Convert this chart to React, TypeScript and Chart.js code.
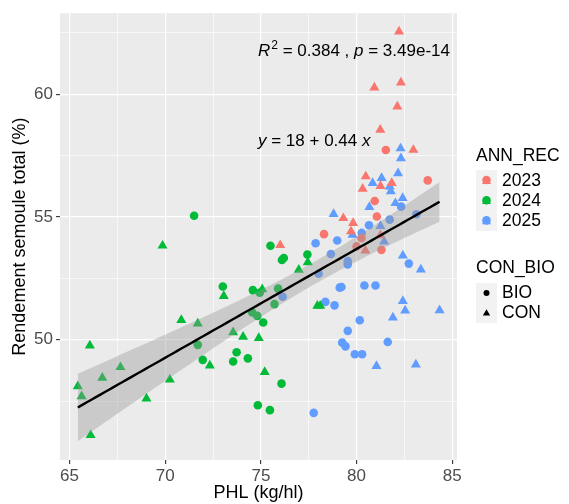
import React, { useEffect, useRef } from 'react';
import { Chart, registerables } from 'chart.js';
Chart.register(...registerables);

const FAMILY = '"Liberation Sans", Arial, sans-serif';
const YEARS = ['2023', '2024', '2025'];
const COLORS = ['#F8766D', '#00BA38', '#619CFF'];
const SHAPES = ['BIO', 'CON'];

// 2023
const x2023BIO = [81.53, 83.72, 80.95, 81.06, 78.30, 80.26, 80.00, 81.30];
const y2023BIO = [57.73, 56.49, 55.65, 55.02, 54.30, 54.14, 53.80, 53.66];
const x2023CON = [82.22, 80.93, 82.32, 82.13, 81.24, 82.97, 80.48, 80.32, 81.84, 81.25, 79.31, 79.82, 79.71, 80.46, 76.01, 81.25];
const y2023CON = [62.55, 60.27, 60.47, 59.50, 58.55, 57.73, 56.65, 56.15, 56.38, 56.26, 54.95, 54.75, 54.41, 53.63, 53.85, 54.25];
// 2024
const x2024BIO = [71.51, 75.50, 76.10, 76.20, 73.01, 74.58, 74.94, 75.90, 75.71, 74.55, 74.81, 75.12, 71.70, 73.73, 73.55, 74.32, 71.96, 76.08, 74.84, 75.47, 77.43];
const y2024BIO = [55.05, 53.83, 53.25, 53.33, 52.17, 52.02, 51.91, 52.08, 51.45, 51.11, 50.97, 50.70, 49.79, 49.49, 49.11, 49.24, 49.18, 48.21, 47.33, 47.13, 53.47];
const x2024CON = [69.86, 73.06, 75.07, 76.98, 77.45, 77.95, 78.10, 70.84, 71.70, 66.06, 73.55, 74.07, 74.89, 72.33, 67.66, 66.71, 65.43, 65.63, 70.24, 69.02, 66.10, 75.20];
const y2024CON = [53.83, 51.78, 52.05, 52.85, 53.15, 51.38, 51.38, 50.80, 50.66, 49.76, 50.30, 50.12, 50.07, 48.95, 48.88, 48.45, 48.10, 47.69, 48.37, 47.60, 46.11, 48.68];
// 2025
const x2025BIO = [82.33, 83.13, 81.73, 80.65, 80.27, 78.99, 77.86, 78.66, 79.54, 79.54, 82.73, 78.02, 79.12, 79.21, 80.41, 80.99, 78.37, 78.85, 80.17, 79.54, 79.25, 79.42, 79.91, 80.29, 81.63, 77.76, 76.14];
const y2025BIO = [55.42, 55.11, 54.89, 54.66, 54.35, 54.04, 53.93, 53.49, 53.20, 53.07, 53.10, 52.69, 52.12, 52.15, 52.21, 52.21, 51.54, 51.40, 50.79, 50.36, 49.88, 49.73, 49.41, 49.41, 49.91, 47.02, 51.75];
const x2025CON = [82.30, 82.32, 82.17, 81.31, 80.84, 81.73, 81.79, 82.41, 82.03, 80.67, 78.80, 79.79, 81.25, 81.44, 82.42, 83.36, 82.42, 82.54, 84.34, 81.90, 81.04, 83.10];
const y2025CON = [57.79, 57.39, 56.78, 56.58, 56.38, 56.24, 56.04, 55.77, 55.56, 55.40, 55.12, 54.27, 54.63, 54.00, 53.43, 52.86, 51.57, 51.19, 51.20, 50.90, 48.93, 48.99];

const X_MIN = 64.5;
const X_MAX = 85.25;
const Y_MIN = 45.1;
const Y_MAX = 63.3;
const T_CRIT = 1.981;

const R2_LABEL = ['R', '2', ' = 0.384 , ', 'p', ' = 3.49e-14'];
const EQ_LABEL = ['y', ' = 18 + 0.44 ', 'x'];

const GROUPS = [
  { year: 0, shape: 0, xs: x2023BIO, ys: y2023BIO },
  { year: 0, shape: 1, xs: x2023CON, ys: y2023CON },
  { year: 1, shape: 0, xs: x2024BIO, ys: y2024BIO },
  { year: 1, shape: 1, xs: x2024CON, ys: y2024CON },
  { year: 2, shape: 0, xs: x2025BIO, ys: y2025BIO },
  { year: 2, shape: 1, xs: x2025CON, ys: y2025CON },
];

function fit() {
  const xs: number[] = [];
  const ys: number[] = [];
  GROUPS.forEach(g => { xs.push(...g.xs); ys.push(...g.ys); });
  const n = xs.length;
  const mx = xs.reduce((a, b) => a + b, 0) / n;
  const my = ys.reduce((a, b) => a + b, 0) / n;
  let sxx = 0, sxy = 0;
  for (let i = 0; i < n; i++) { sxx += (xs[i] - mx) ** 2; sxy += (xs[i] - mx) * (ys[i] - my); }
  const b = sxy / sxx;
  const a = my - b * mx;
  let sse = 0;
  for (let i = 0; i < n; i++) sse += (ys[i] - a - b * xs[i]) ** 2;
  const s = Math.sqrt(sse / (n - 2));
  const lo = Math.min(...xs), hi = Math.max(...xs);
  const line: any[] = [], upper: any[] = [], lower: any[] = [];
  const steps = 80;
  for (let k = 0; k <= steps; k++) {
    const x = lo + (hi - lo) * k / steps;
    const yh = a + b * x;
    const se = s * Math.sqrt(1 / n + (x - mx) ** 2 / sxx);
    line.push({ x, y: yh });
    upper.push({ x, y: yh + T_CRIT * se });
    lower.push({ x, y: yh - T_CRIT * se });
  }
  return { line, upper, lower };
}

function drawTri(ctx: CanvasRenderingContext2D, x: number, y: number, r: number) {
  ctx.beginPath();
  for (let i = 0; i < 3; i++) {
    const ang = i * 2 * Math.PI / 3;
    const px = x + Math.sin(ang) * r;
    const py = y - Math.cos(ang) * r;
    if (i === 0) ctx.moveTo(px, py); else ctx.lineTo(px, py);
  }
  ctx.closePath();
  ctx.fill();
}

const isMajor = (v: number) => Math.abs(v / 5 - Math.round(v / 5)) < 1e-6;

export default function App() {
  const ref = useRef<HTMLCanvasElement>(null);
  useEffect(() => {
    const { line, upper, lower } = fit();
    const scatterSets = GROUPS.map(g => ({
      type: 'scatter' as const,
      label: YEARS[g.year] + ' ' + SHAPES[g.shape],
      data: g.xs.map((x, i) => ({ x, y: g.ys[i] })),
      backgroundColor: COLORS[g.year],
      borderWidth: 0,
      pointStyle: g.shape === 0 ? 'circle' : 'triangle',
      pointRadius: g.shape === 0 ? 4.3 : 5.8,
      order: 3,
    }));
    const bg = {
      id: 'bg',
      beforeDraw(chart: any) {
        const { ctx, chartArea: a } = chart;
        ctx.save();
        ctx.fillStyle = '#FFFFFF';
        ctx.fillRect(0, 0, chart.width, chart.height);
        ctx.fillStyle = '#EBEBEB';
        ctx.fillRect(a.left, a.top, a.right - a.left, a.bottom - a.top);
        ctx.restore();
      },
    };
    const annot = {
      id: 'annot',
      afterDraw(chart: any) {
        const ctx = chart.ctx as CanvasRenderingContext2D;
        ctx.save();
        ctx.fillStyle = '#000';
        ctx.textBaseline = 'middle';
        ctx.textAlign = 'left';
        const fs = 17;
        const norm = `${fs}px ${FAMILY}`;
        const ital = `italic ${fs}px ${FAMILY}`;
        // R2 line
        let x = 258; const y1 = 51.5;
        ctx.font = ital; ctx.fillText(R2_LABEL[0], x, y1); x += ctx.measureText(R2_LABEL[0]).width + 1;
        ctx.font = `12px ${FAMILY}`; ctx.fillText(R2_LABEL[1], x, y1 - 6); x += ctx.measureText(R2_LABEL[1]).width;
        ctx.font = norm; ctx.fillText(R2_LABEL[2], x, y1); x += ctx.measureText(R2_LABEL[2]).width;
        ctx.font = ital; ctx.fillText(R2_LABEL[3], x, y1); x += ctx.measureText(R2_LABEL[3]).width;
        ctx.font = norm; ctx.fillText(R2_LABEL[4], x, y1);
        // equation
        x = 258; const y2 = 141.5;
        ctx.font = ital; ctx.fillText(EQ_LABEL[0], x, y2); x += ctx.measureText(EQ_LABEL[0]).width;
        ctx.font = norm; ctx.fillText(EQ_LABEL[1], x, y2); x += ctx.measureText(EQ_LABEL[1]).width;
        ctx.font = ital; ctx.fillText(EQ_LABEL[2], x, y2);
        // legend
        const lf = `17.5px ${FAMILY}`;
        ctx.font = lf;
        ctx.fillText('ANN_REC', 476, 156);
        ctx.fillStyle = '#F2F2F2';
        ctx.fillRect(476, 170, 21, 61);
        YEARS.forEach((yr, i) => {
          const cy = 180.5 + i * 20.2;
          ctx.fillStyle = COLORS[i];
          ctx.beginPath(); ctx.arc(486.5, cy - 0.5, 4.3, 0, Math.PI * 2); ctx.fill();
          drawTri(ctx, 486.5, cy + 0.8, 5.2);
          ctx.fillStyle = '#000';
          ctx.font = lf;
          ctx.fillText(yr, 502, cy + 0.5);
        });
        ctx.fillText('CON_BIO', 476, 268);
        ctx.fillStyle = '#F2F2F2';
        ctx.fillRect(476, 283, 21, 40);
        ctx.fillStyle = '#000';
        ctx.beginPath(); ctx.arc(486.5, 293, 3, 0, Math.PI * 2); ctx.fill();
        drawTri(ctx, 486.5, 313.5, 4.2);
        ctx.fillText(SHAPES[0], 502, 293.5);
        ctx.fillText(SHAPES[1], 502, 313);
        ctx.restore();
      },
    };
    const chart = new Chart(ref.current!, {
      type: 'scatter',
      data: {
        datasets: [
          {
            type: 'line', label: 'fit', data: line, borderColor: '#000000', borderWidth: 2.4,
            pointRadius: 0, fill: false, order: 0, tension: 0,
          } as any,
          {
            type: 'line', label: 'upper', data: upper, borderWidth: 0, borderColor: 'rgba(0,0,0,0)',
            pointRadius: 0, fill: '+1', backgroundColor: 'rgba(153,153,153,0.4)', order: 1,
          } as any,
          {
            type: 'line', label: 'lower', data: lower, borderWidth: 0, borderColor: 'rgba(0,0,0,0)',
            pointRadius: 0, fill: false, order: 2,
          } as any,
          ...scatterSets,
        ],
      },
      options: {
        animation: false,
        responsive: false,
        devicePixelRatio: 1,
        layout: { padding: { left: 0, right: 112, top: 10, bottom: 0 } },
        plugins: { legend: { display: false }, tooltip: { enabled: false } },
        scales: {
          x: {
            type: 'linear', min: X_MIN, max: X_MAX,
            afterFit: (s: any) => { s.height = 44; },
            border: { display: false },
            grid: {
              color: '#FFFFFF',
              lineWidth: (c: any) => (isMajor(c.tick.value) ? 1.2 : 0.6),
              drawTicks: true, tickLength: 4,
              tickColor: (c: any) => (isMajor(c.tick.value) ? '#333333' : 'rgba(0,0,0,0)'),
              tickWidth: 1.1,
            },
            ticks: {
              stepSize: 2.5, includeBounds: false, autoSkip: false, maxRotation: 0, padding: 2,
              color: '#4D4D4D', font: { size: 17, family: FAMILY },
              callback: (v: any) => (isMajor(Number(v)) ? String(v) : ''),
            },
            title: { display: true, text: 'PHL (kg/hl)', color: '#000', font: { size: 18, family: FAMILY }, padding: { top: 0, bottom: 0 } },
          },
          y: {
            type: 'linear', min: Y_MIN, max: Y_MAX,
            afterFit: (s: any) => { s.width = 60; },
            border: { display: false },
            grid: {
              color: '#FFFFFF',
              lineWidth: (c: any) => (isMajor(c.tick.value) ? 1.2 : 0.6),
              drawTicks: true, tickLength: 4,
              tickColor: (c: any) => (isMajor(c.tick.value) ? '#333333' : 'rgba(0,0,0,0)'),
              tickWidth: 1.1,
            },
            ticks: {
              stepSize: 2.5, includeBounds: false, autoSkip: false, padding: 3,
              color: '#4D4D4D', font: { size: 17, family: FAMILY },
              callback: (v: any) => (isMajor(Number(v)) ? String(v) : ''),
            },
            title: { display: true, text: 'Rendement semoule total (%)', color: '#000', font: { size: 18, family: FAMILY }, padding: { top: 9, bottom: 0 } },
          },
        },
      },
      plugins: [bg, annot],
    } as any);
    return () => chart.destroy();
  }, []);
  return (
    <div style={{ position: 'fixed', left: 0, top: 0, width: 569, height: 504, background: '#fff' }}>
      <canvas ref={ref} width={569} height={504} style={{ width: 569, height: 504, display: 'block' }} />
    </div>
  );
}
